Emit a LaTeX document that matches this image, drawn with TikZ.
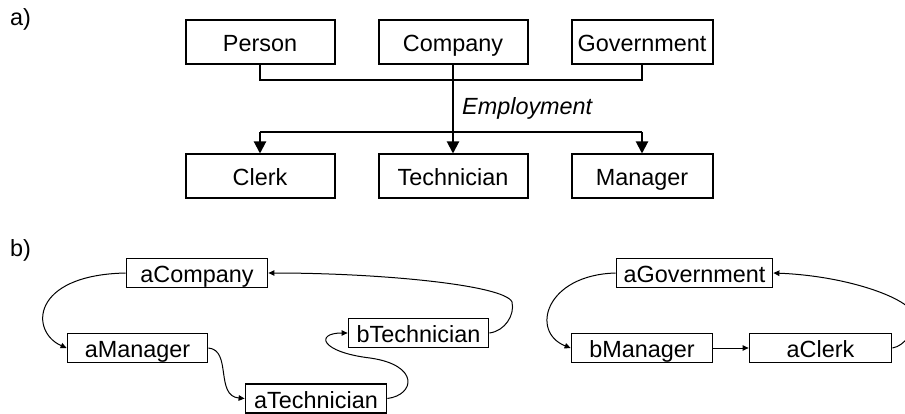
\documentclass[tikz,border=0pt]{standalone}
\usepackage{fontspec}
\setmainfont{Liberation Sans}
\usetikzlibrary{arrows.meta}
\begin{document}
\begin{tikzpicture}[x=1pt,y=-1pt,
  txt/.style={font=\fontsize{23.4}{28}\selectfont},
  bigbox/.style={txt,draw,line width=2pt,minimum height=44pt,inner sep=0pt,text height=19pt,text depth=0pt},
  smallbox/.style={txt,draw,line width=1.8pt,minimum height=29pt,inner sep=0pt,text height=19pt,text depth=0pt},
  aline/.style={line width=2pt},
  bigarrow/.style={aline,-{Triangle[length=12pt,width=12pt]}},
  link/.style={line width=1pt,-{Triangle[length=6pt,width=5.5pt]}},
  lbl/.style={txt,anchor=base west,inner sep=0pt}]
\clip (0,0) rectangle (905,414);
% labels
\node[lbl] (la) at (10,26) {a)};
\node[lbl] (lb) at (10,256) {b)};
% part a
\node[bigbox,minimum width=149pt] (Person) at (260,42.5) {Person};
\node[bigbox,minimum width=149pt] (Company) at (453,42.5) {Company};
\node[bigbox,minimum width=141pt] (Government) at (642,42.5) {Government};
\node[bigbox,minimum width=149pt] (Clerk) at (260,176.5) {Clerk};
\node[bigbox,minimum width=149pt] (Technician) at (453,176.5) {Technician};
\node[bigbox,minimum width=141pt] (Manager) at (642,176.5) {Manager};
\coordinate (j1) at (260,80);
\coordinate (j2) at (642,80);
\coordinate (c1) at (260,132);
\coordinate (c2) at (642,132);
\draw[aline] (Person.south) -- (j1) -- (j2) -- (Government.south);
\draw[bigarrow] (Company.south) -- (Technician.north);
\draw[aline] (c1) -- (c2);
\draw[bigarrow] (c1) -- (Clerk.north);
\draw[bigarrow] (c2) -- (Manager.north);
\node[lbl,font=\fontsize{23.4}{28}\selectfont\itshape] (emp) at (462,115) {Employment};
% part b
\node[smallbox,minimum width=141pt] (aCompany) at (197,273) {aCompany};
\node[smallbox,minimum width=140pt] (aManager) at (137.5,348) {aManager};
\node[smallbox,minimum width=141pt] (aTechnician) at (316,398.5) {aTechnician};
\node[smallbox,minimum width=140pt] (bTechnician) at (418.5,333) {bTechnician};
\node[smallbox,minimum width=156pt] (aGovernment) at (694.5,273) {aGovernment};
\node[smallbox,minimum width=141pt] (bManager) at (642,348) {bManager};
\node[smallbox,minimum width=142pt] (aClerk) at (820.5,348) {aClerk};
\draw[link] (aCompany.west) .. controls (30,275) and (30,332) .. (aManager.west);
\draw[link] (aManager.east) .. controls (232,350) and (215,396) .. (aTechnician.west);
\coordinate (m1) at (370,358);
\draw[link] (aTechnician.east) .. controls (415,395) and (420,365) .. (m1)
  .. controls (320,352) and (315,333) .. (bTechnician.west);
\coordinate (m2) at (512,302);
\draw[link] (bTechnician.east) .. controls (505,331) and (515,315) .. (m2)
  .. controls (505,285) and (380,273) .. (aCompany.east);
\draw[link] (aGovernment.west) .. controls (545,275) and (530,332) .. (bManager.west);
\draw[link] (bManager.east) -- (aClerk.west);
\coordinate (m3) at (915,318);
\draw[link] (aClerk.east) .. controls (905,346) and (915,330) .. (m3)
  .. controls (915,300) and (850,276) .. (aGovernment.east);
\end{tikzpicture}
\end{document}
